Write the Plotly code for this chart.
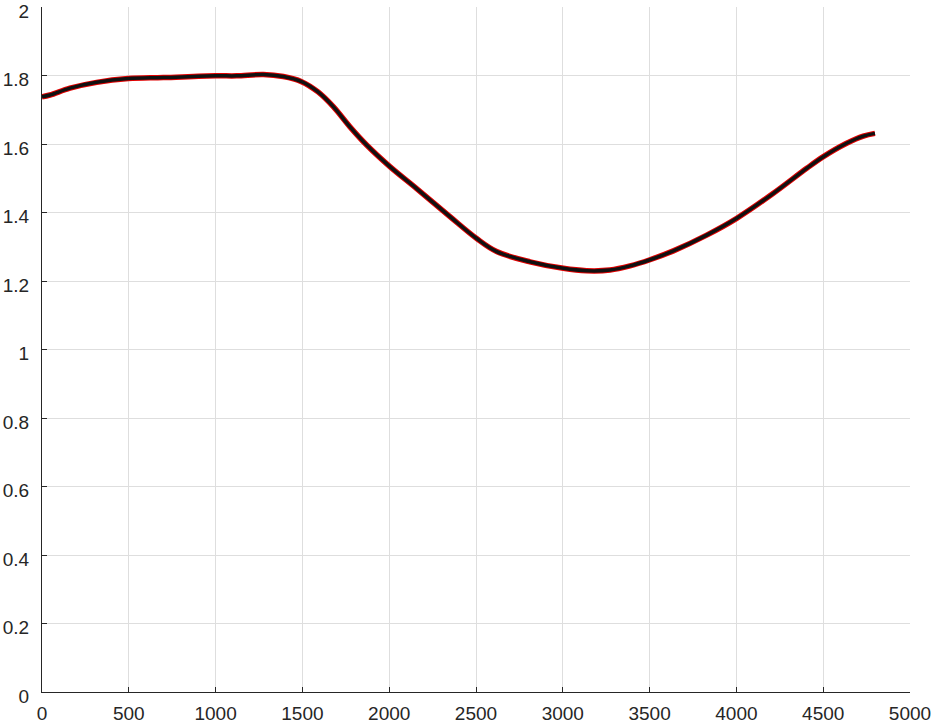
import plotly.graph_objects as go

# values
x_vals = [0, 46, 161, 315, 497, 699, 1000, 1121, 1275, 1390, 1495, 1590, 1678,
          1774, 1870, 2004, 2158, 2350, 2504, 2619, 2811, 3003, 3137, 3272,
          3387, 3502, 3637, 3829, 4002, 4213, 4405, 4501, 4635, 4731, 4798]
y_vals = [1.738, 1.743, 1.763, 1.780, 1.791, 1.794, 1.799, 1.799, 1.803, 1.797,
          1.782, 1.752, 1.709, 1.650, 1.597, 1.534, 1.470, 1.388, 1.324, 1.286,
          1.256, 1.237, 1.230, 1.232, 1.244, 1.262, 1.288, 1.334, 1.383, 1.456,
          1.529, 1.563, 1.602, 1.623, 1.631]

axis_color = "#262626"
grid_color = "#dedede"
font = dict(family="Liberation Sans, Arial, Helvetica, sans-serif", size=19, color=axis_color)

fig = go.Figure()

# red outline under a black core, like the original
fig.add_trace(go.Scatter(x=x_vals, y=y_vals, mode="lines",
                         line=dict(color="#e00000", width=5.5, shape="spline"),
                         showlegend=False))
fig.add_trace(go.Scatter(x=x_vals, y=y_vals, mode="lines",
                         line=dict(color="#111111", width=3.5, shape="spline"),
                         showlegend=False))

fig.update_xaxes(range=[0, 5000], dtick=500, tick0=0,
                 showgrid=True, gridcolor=grid_color, gridwidth=1,
                 showline=True, linecolor=axis_color, linewidth=1,
                 ticks="inside", ticklen=5, tickcolor=axis_color,
                 zeroline=False, mirror=False, tickfont=font,
                 ticklabelstandoff=4, automargin=False, ticklabeloverflow="allow")
fig.update_yaxes(range=[0, 2], dtick=0.2, tick0=0,
                 showgrid=True, gridcolor=grid_color, gridwidth=1,
                 showline=True, linecolor=axis_color, linewidth=1,
                 ticks="inside", ticklen=5, tickcolor=axis_color,
                 zeroline=False, mirror=False, tickfont=font,
                 ticklabelstandoff=8, ticklabelshift=4,
                 automargin=False, ticklabeloverflow="allow")

fig.update_layout(
    width=936, height=728,
    margin=dict(l=42, r=26, t=7, b=36, autoexpand=False),
    plot_bgcolor="white",
    paper_bgcolor="white",
    font=font,
)

# drop the browser's default body margin so the figure sits at the corner
fig.write_html("out.html", config={"displayModeBar": False},
               post_script="document.body.style.margin='0';")
